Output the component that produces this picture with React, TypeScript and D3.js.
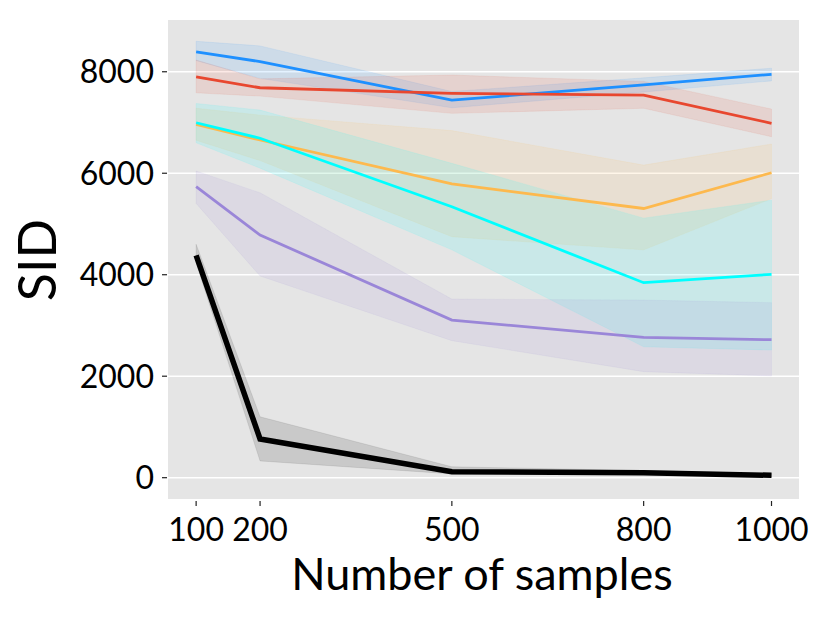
import * as d3 from 'd3';

const samples = [100, 200, 500, 800, 1000];
const xTicks = [100, 200, 500, 800, 1000];
const yTicks = [0, 2000, 4000, 6000, 8000];

const blueMean = [8390, 8200, 7440, 7740, 7950];
const blueLo = [8220, 7870, 7290, 7600, 7820];
const blueHi = [8600, 8510, 7610, 7880, 8070];

const redMean = [7900, 7685, 7575, 7540, 6985];
const redLo = [7585, 7520, 7180, 7280, 6720];
const redHi = [8230, 7860, 7935, 7810, 7265];

const orangeMean = [6965, 6655, 5790, 5305, 6010];
const orangeLo = [6650, 6250, 4750, 4490, 5500];
const orangeHi = [7280, 7145, 6840, 6160, 6575];

const cyanMean = [6995, 6690, 5340, 3843, 4008];
const cyanLo = [6600, 6100, 4490, 2580, 2515];
const cyanHi = [7375, 7245, 6195, 5115, 5470];

const purpleMean = [5735, 4782, 3107, 2766, 2719];
const purpleLo = [5405, 3975, 2700, 2090, 2005];
const purpleHi = [6045, 5615, 3520, 3500, 3450];

const blackMean = [4380, 763, 118, 99, 47];
const blackLo = [4230, 330, 75, 60, 15];
const blackHi = [4600, 1200, 215, 140, 80];

const series = [
  { color: '#1e90ff', mean: blueMean, lo: blueLo, hi: blueHi, width: 2.8 },
  { color: '#e8472f', mean: redMean, lo: redLo, hi: redHi, width: 2.8 },
  { color: '#fdb94e', mean: orangeMean, lo: orangeLo, hi: orangeHi, width: 2.8 },
  { color: '#00ffff', mean: cyanMean, lo: cyanLo, hi: cyanHi, width: 2.8 },
  { color: '#9a86d8', mean: purpleMean, lo: purpleLo, hi: purpleHi, width: 2.8 },
  { color: '#000000', mean: blackMean, lo: blackLo, hi: blackHi, width: 5.5 },
];

const W = 830;
const H = 623;
const plot = { left: 168, right: 799, top: 20, bottom: 499 };
const font = 'Lato, "Open Sans", sans-serif';

export default function App() {
  const x = d3.scaleLinear().domain([56, 1043]).range([plot.left, plot.right]);
  const y = d3.scaleLinear().domain([-420, 9020]).range([plot.bottom, plot.top]);

  const area = d3
    .area<number>()
    .x((_, i) => x(samples[i]))
    .y0((d) => y(d));
  const line = d3
    .line<number>()
    .x((_, i) => x(samples[i]))
    .y((d) => y(d));

  return (
    <svg width={W} height={H} style={{ position: 'absolute', left: 0, top: 0, background: '#fff' }}>
      <rect
        x={plot.left}
        y={plot.top}
        width={plot.right - plot.left}
        height={plot.bottom - plot.top}
        fill="#e5e5e5"
      />
      {yTicks.map((t) => (
        <line key={'g' + t} x1={plot.left} x2={plot.right} y1={y(t)} y2={y(t)} stroke="#fff" strokeWidth={1.6} />
      ))}

      {series.map((s, k) => (
        <path
          key={'b' + k}
          d={area.y1((_, i) => y(s.hi[i]))(s.lo) || ''}
          fill={s.color}
          fillOpacity={0.12}
          stroke={s.color}
          strokeOpacity={0.08}
          strokeWidth={1}
        />
      ))}
      {series.map((s, k) => (
        <path
          key={'l' + k}
          d={line(s.mean) || ''}
          fill="none"
          stroke={s.color}
          strokeWidth={s.width}
        />
      ))}

      {yTicks.map((t) => (
        <g key={'y' + t}>
          <line x1={162} x2={167} y1={y(t)} y2={y(t)} stroke="#222" strokeWidth={1.2} />
          <text
            x={154}
            y={y(t)}
            dy="0.36em"
            textAnchor="end"
            fontFamily={font}
            fontSize={32}
            fill="#000"
          >
            {t}
          </text>
        </g>
      ))}
      {xTicks.map((t) => (
        <g key={'x' + t}>
          <line x1={x(t)} x2={x(t)} y1={501} y2={506} stroke="#222" strokeWidth={1.2} />
          <text x={x(t)} y={541} textAnchor="middle" fontFamily={font} fontSize={32} fill="#000">
            {t}
          </text>
        </g>
      ))}

      <text x={482} y={590} textAnchor="middle" fontFamily={font} fontSize={45} fill="#000">
        Number of samples
      </text>
      <text
        transform="translate(56,260) rotate(-90)"
        textAnchor="middle"
        fontFamily={font}
        fontSize={52}
        fill="#000"
      >
        SID
      </text>
    </svg>
  );
}
